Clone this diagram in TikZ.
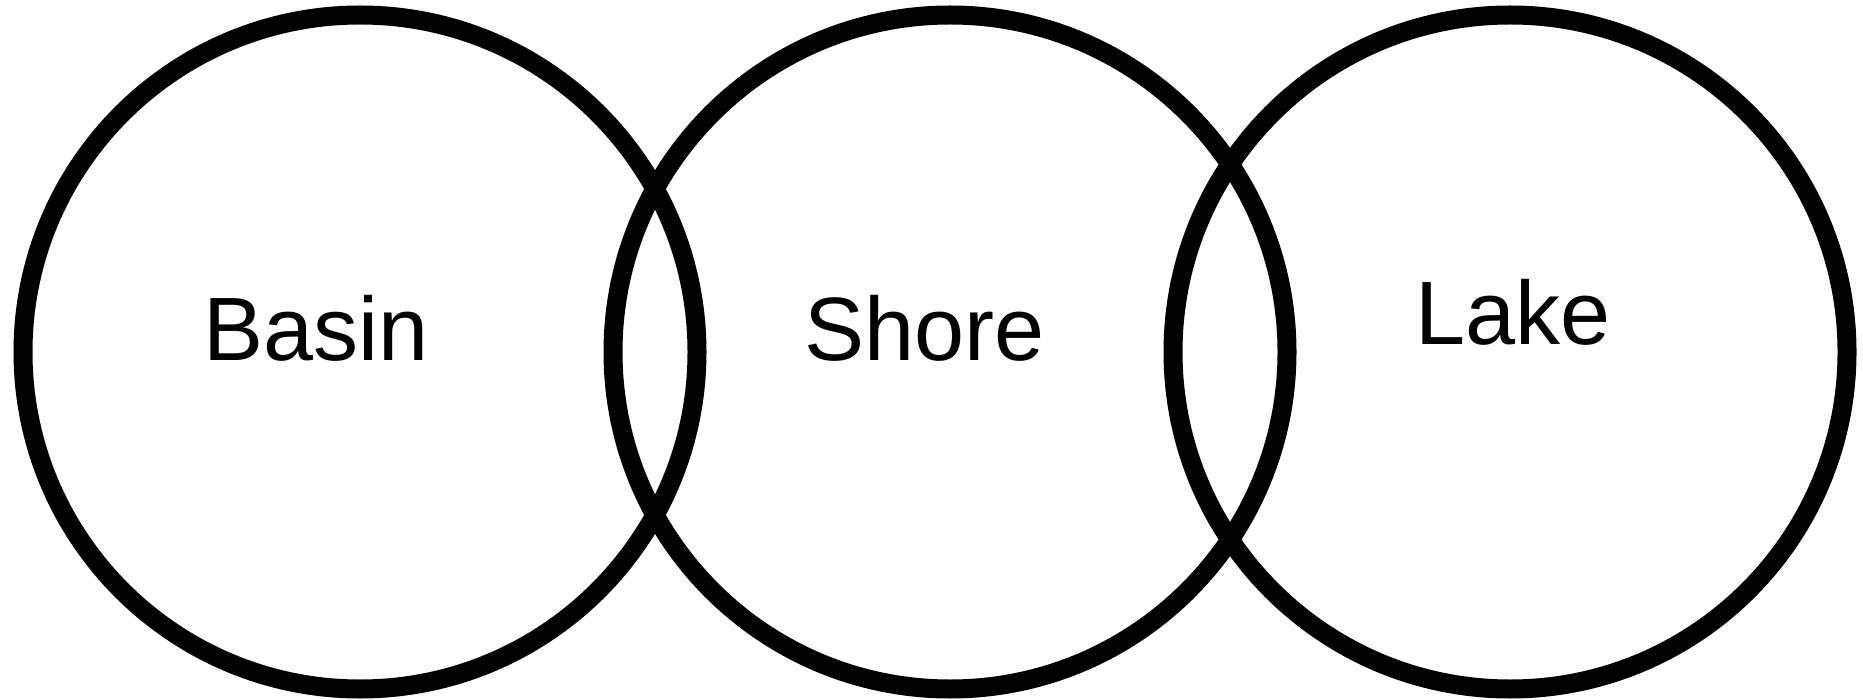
\documentclass[tikz,border=0pt]{standalone}
\usepackage{fontspec}
\setmainfont{Liberation Sans}
\begin{document}
\begin{tikzpicture}[x=1pt,y=-1pt,
  ring/.style={draw=black,line width=19pt,circle,minimum size=674pt,inner sep=0pt},
  lbl/.style={font=\fontsize{90}{108}\selectfont,inner sep=0pt}]
\useasboundingbox (0,0) rectangle (1863,700);
\node[ring] (c1) at (360,352) {};
\node[ring] (c2) at (950,352) {};
\node[ring] (c3) at (1510,352) {};
\node[lbl,anchor=base west] (t1) at (203,361) {Basin};
\node[lbl,anchor=base west] (t2) at (804,361) {Shore};
\node[lbl,anchor=base west] (t3) at (1415,345) {Lake};
\end{tikzpicture}
\end{document}
